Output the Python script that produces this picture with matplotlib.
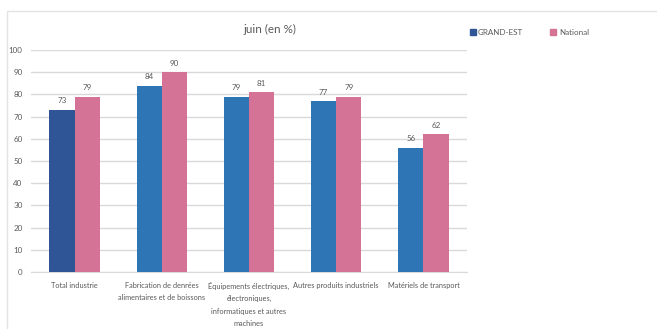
import matplotlib
matplotlib.use("Agg")
import matplotlib.pyplot as plt
import numpy as np
from matplotlib.patches import Rectangle

plt.rcParams['font.family'] = ['Lato', 'DejaVu Sans']

categories = [
    "Total industrie",
    "Fabrication de denrées\nalimentaires et de boissons",
    "Équipements électriques,\nélectroniques,\ninformatiques et autres\nmachines",
    "Autres produits industriels",
    "Matériels de transport",
]
grand_est = [73, 84, 79, 77, 56]
national = [79, 90, 81, 79, 62]
series_names = ["GRAND-EST", "National"]
title = "juin (en %)"

blue_total = "#2F5597"
blue = "#2E75B6"
pink = "#D47396"
text_grey = "#595959"
grid_grey = "#D9D9D9"

fig = plt.figure(figsize=(6.57, 3.29), dpi=100)
fig.patch.set_facecolor("white")

# outer chart frame
fig.patches.append(Rectangle((7 / 657, -0.1), 1.2, 1 - 11 / 329 + 0.1,
                             transform=fig.transFigure, fill=False,
                             edgecolor="#E3E3E3", linewidth=1.0, zorder=0))

ax = fig.add_axes([31 / 657, 1 - 272 / 329, 436 / 657, 222 / 329])
x = np.arange(len(categories))
w = 0.29
ge_colors = [blue_total] + [blue] * (len(categories) - 1)
b1 = ax.bar(x - w / 2, grand_est, w, color=ge_colors, zorder=3)
b2 = ax.bar(x + w / 2, national, w, color=pink, zorder=3)

for bars, vals in ((b1, grand_est), (b2, national)):
    for r, v in zip(bars, vals):
        ax.annotate(f"{v}", (r.get_x() + r.get_width() / 2, v),
                    xytext=(0, 4), textcoords="offset points",
                    ha="center", va="bottom", fontsize=5.8, color=text_grey)

ax.set_xlim(-0.5, len(categories) - 0.5)
ax.set_ylim(0, 100)
ax.set_yticks(np.arange(0, 101, 10))
ax.yaxis.grid(True, color=grid_grey, linewidth=1.0, zorder=0)
ax.set_axisbelow(True)
for s in ("top", "right", "left"):
    ax.spines[s].set_visible(False)
ax.spines["bottom"].set_color(grid_grey)
ax.tick_params(axis="both", length=0, labelsize=5.8, labelcolor=text_grey)
ax.tick_params(axis="y", pad=6)
ax.tick_params(axis="x", pad=7)
ax.set_xticks(x)
ax.set_xticklabels(categories, linespacing=1.9, fontsize=5.35)

fig.text(270 / 657, 1 - 29 / 329, title, ha="center", va="center",
         fontsize=8.4, color=text_grey)

# legend
lg_y = 1 - 32.5 / 329
for sx, tx, name, col in ((470, 478, series_names[0], blue_total),
                          (550, 559, series_names[1], pink)):
    fig.patches.append(Rectangle((sx / 657, lg_y - 2.5 / 329), 5.5 / 657, 5.5 / 329,
                                 transform=fig.transFigure, color=col))
    fig.text(tx / 657, lg_y, name, ha="left", va="center", fontsize=5.8,
             color=text_grey)

fig.savefig("out.png", dpi=100)
